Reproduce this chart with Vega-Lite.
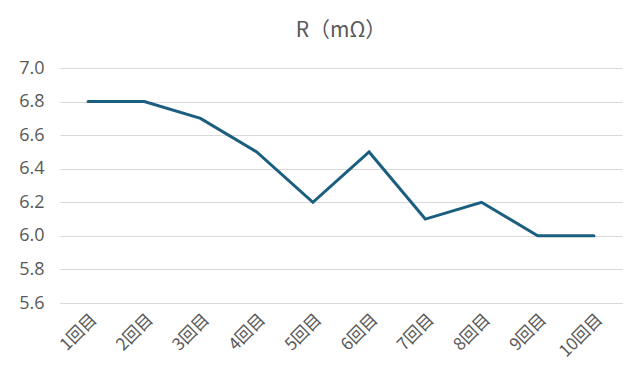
{
  "$schema": "https://vega.github.io/schema/vega-lite/v6.json",
  "width": 562,
  "height": 235,
  "autosize": "none",
  "padding": {"left": 60, "top": 68, "right": 18, "bottom": 82},
  "background": "white",
  "title": {
    "text": "R（mΩ）",
    "font": "Noto Sans CJK JP",
    "fontSize": 21,
    "fontWeight": "normal",
    "color": "#595959",
    "offset": 18,
    "anchor": "middle"
  },
  "data": {
    "values": [
      {"回": "1回目", "R": 6.8},
      {"回": "2回目", "R": 6.8},
      {"回": "3回目", "R": 6.7},
      {"回": "4回目", "R": 6.5},
      {"回": "5回目", "R": 6.2},
      {"回": "6回目", "R": 6.5},
      {"回": "7回目", "R": 6.1},
      {"回": "8回目", "R": 6.2},
      {"回": "9回目", "R": 6.0},
      {"回": "10回目", "R": 6.0}
    ]
  },
  "mark": {"type": "line", "color": "#1b5e80", "strokeWidth": 3, "strokeCap": "round"},
  "encoding": {
    "x": {
      "field": "回",
      "type": "ordinal",
      "sort": null,
      "scale": {"paddingInner": 0, "paddingOuter": 0.5},
      "axis": {
        "title": null,
        "labelAngle": -45,
        "labelFont": "Noto Sans CJK JP",
        "labelFontSize": 17,
        "labelColor": "#595959",
        "ticks": false,
        "domainColor": "#d9d9d9",
        "labelPadding": 8,
        "grid": false
      }
    },
    "y": {
      "field": "R",
      "type": "quantitative",
      "scale": {"domain": [5.6, 7.0], "nice": false, "zero": false},
      "axis": {
        "title": null,
        "values": [5.6, 5.8, 6.0, 6.2, 6.4, 6.6, 6.8, 7.0],
        "format": ".1f",
        "labelFont": "Open Sans",
        "labelFontSize": 18,
        "labelColor": "#595959",
        "ticks": false,
        "domain": false,
        "labelPadding": 16,
        "gridColor": "#d9d9d9",
        "gridWidth": 1
      }
    }
  },
  "config": {"view": {"stroke": null}}
}
